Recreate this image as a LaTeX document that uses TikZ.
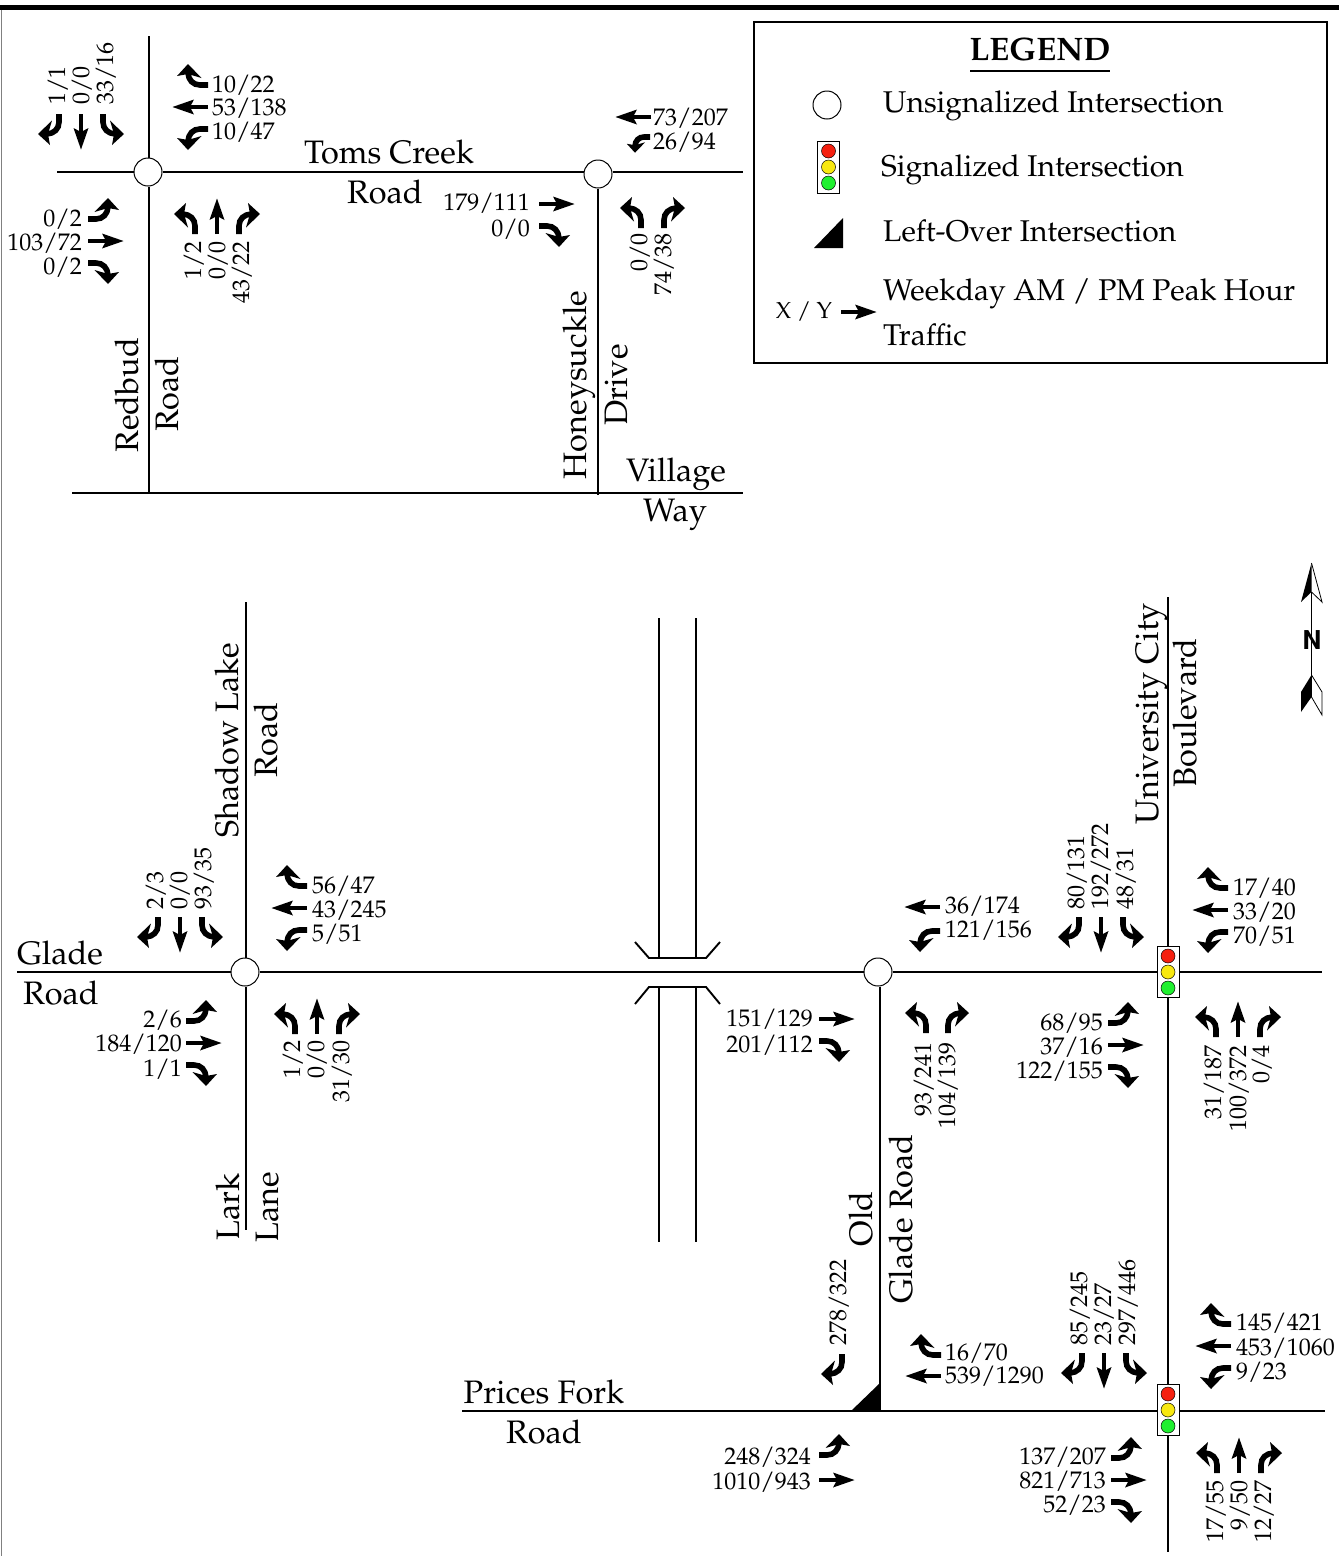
\documentclass[tikz,border=0pt]{standalone}
\usepackage[T1]{fontenc}
\usepackage{mathpazo}
\usepackage{xcolor}
\usepackage{tikz}
\usetikzlibrary{
	shapes.geometric,
	arrows.meta,
	positioning,
	calc
}
\definecolor{sigred}{RGB}{245,32,16}
\definecolor{sigyellow}{RGB}{248,232,16}
\definecolor{siggreen}{RGB}{32,240,48}
\newcommand{\thrushape}{
	\draw[line width=4.8pt] (0,0) -- (0,-20);
	\fill (0,-35.5) -- (7.5,-14) -- (0,-18) -- (-7.5,-14) -- cycle;
}
\newcommand{\turnshape}{
	\draw[line width=5.6pt] (0,0) -- (0,-8) .. controls (0,-15) and (-5,-19.5) .. (-12,-20);
	\fill (-21,-20) -- (-9,-31) -- (-11,-20) -- (-7,-6.5) -- cycle;
}

\begin{document}
\begin{tikzpicture}[
	x=1pt, y=-1pt,
	road/.style={line width=1.9pt},
	unsig/.style={
		circle, draw, fill=white, line width=1pt,
		minimum size=28pt, inner sep=0pt
	},
	sigbox/.style={
		rectangle, draw, fill=white, line width=0.8pt,
		minimum width=22pt, minimum height=51pt, inner sep=0pt
	},
	lamp/.style={circle, draw, line width=0.5pt, minimum size=14pt, inner sep=0pt},
	street/.style={
		font=\fontsize{32.5}{36}\selectfont, inner sep=0pt,
		text height=22pt, text depth=0pt
	},
	num/.style={
		font=\fontsize{24}{26}\selectfont, inner sep=0pt,
		text height=18pt, text depth=2pt
	},
	numE/.style={num, anchor=west},
	numW/.style={num, anchor=east},
	numN/.style={num, rotate=90, anchor=west},
	numS/.style={num, rotate=90, anchor=east},
	legtext/.style={
		font=\fontsize{30}{34}\selectfont, anchor=west, inner sep=0pt,
		text height=21pt, text depth=0pt
	},
	thru/.pic={\thrushape},
	lturn/.pic={\turnshape},
	rturn/.pic={\begin{scope}[xscale=-1]\turnshape\end{scope}},
	threeway/.pic={
		\begin{scope}[xshift=-22pt]\turnshape\end{scope}
		\thrushape
		\begin{scope}[xshift=22pt, xscale=-1]\turnshape\end{scope}
	},
	]
	
	\useasboundingbox (0,0) rectangle (1339,1556);
	\fill (0,5) rectangle (1339,10);
	\draw[gray, line width=1pt] (1,10) -- (1,1556);
	
	%legend
	\node (legbox) at (1040,192.5) [rectangle, draw, line width=2pt, minimum width=573pt, minimum height=341pt] {};
	\node (legtitle) at (1040,49.5) [font=\fontsize{32.5}{36}\selectfont\bfseries, inner sep=0pt] {LEGEND};
	\coordinate (ulstart) at (970,71);
	\coordinate (ulend) at (1110,71);
	\draw[line width=1.5pt] (ulstart) -- (ulend);
	\node (legunsig) at (827,105) [unsig] {};
	\node (legsig) at (828.5,167) [sigbox, minimum height=52pt] {};
	\node (legred) at (828.5,151) [lamp, fill=sigred] {};
	\node (legyellow) at (828.5,167) [lamp, fill=sigyellow] {};
	\node (leggreen) at (828.5,183) [lamp, fill=siggreen] {};
	\fill (814,248) -- (843,248) -- (843,218) -- cycle;
	\node (legtxta) at (883,102) [legtext] {Unsignalized Intersection};
	\node (legtxtb) at (881,166) [legtext] {Signalized Intersection};
	\node (legtxtc) at (883,231) [legtext] {Left-Over Intersection};
	\node (legtxtd) at (883,290) [legtext] {Weekday AM / PM Peak Hour};
	\node (legtxte) at (883,335) [legtext] {Traffic};
	\node (legxy) at (804,312) [font=\fontsize{23}{26}\selectfont, inner sep=0pt] {X / Y};
	\pic[rotate=-90] at (841,312) {thru};
	
	%north arrow
	\coordinate (ntop) at (1311.5,592);
	\coordinate (nbot) at (1311.5,675);
	\draw[line width=1.5pt] (ntop) -- (nbot);
	\fill (1311.5,563) -- (1301,602) -- (1311.5,592) -- cycle;
	\draw[line width=0.8pt] (1311.5,563) -- (1322,602) -- (1311.5,592);
	\fill (1311.5,675) -- (1301,692) -- (1301,712) -- (1311.5,697) -- cycle;
	\draw[line width=0.8pt] (1311.5,675) -- (1322,692) -- (1322,715) -- (1311.5,697) -- cycle;
	\node (nlabel) at (1312,640) [inner sep=0pt, font=\fontsize{26}{28}\selectfont\fontfamily{phv}\bfseries\selectfont] {N};
	
	%upper streets
	\node (toms) at (148,172) [unsig] {};
	\node (honey) at (598,174) [unsig] {};
	\coordinate (tomsW) at (57,172);
	\coordinate (tomsE) at (743,172);
	\coordinate (budN) at (149,36);
	\coordinate (budS) at (149,493);
	\coordinate (honeyS) at (598,495);
	\coordinate (villW) at (72,493);
	\coordinate (villE) at (743,493);
	\draw[road] (tomsW) -- (toms);
	\draw[road] (toms) -- (honey.west |- tomsW);
	\draw[road] (honey.east |- tomsE) -- (tomsE);
	\draw[road] (budN) -- (toms.north -| budN);
	\draw[road] (toms.south -| budS) -- (budS);
	\draw[road] (honey) -- (honeyS);
	\draw[road] (villW) -- (villE);
	
	\node (ltoms) at (389,152) [street] {Toms Creek};
	\node (ltomsb) at (385,192) [street] {Road};
	\node (lbud) at (127,395) [street, rotate=90] {Redbud};
	\node (lbudb) at (167,394) [street, rotate=90] {Road};
	\node (lhoney) at (575,385) [street, rotate=90] {Honeysuckle};
	\node (lhoneyb) at (616,385) [street, rotate=90] {Drive};
	\node (lvill) at (676,470) [street] {Village};
	\node (lway) at (675,510) [street] {Way};
	
	%1. set
	\pic[rotate=180] at (81,114) {threeway};
	\node (a1) at (57,105) [numN] {1/1};
	\node (a2) at (81,105) [numN] {0/0};
	\node (a3) at (105,105) [numN] {33/16};
	\pic[rotate=90] at (208,107) {threeway};
	\node (a4) at (212,84) [numE] {10/22};
	\node (a5) at (212,107) [numE] {53/138};
	\node (a6) at (212,131) [numE] {10/47};
	\pic[rotate=-90] at (88,241) {threeway};
	\node (a7) at (82,218) [numW] {0/2};
	\node (a8) at (82,242) [numW] {103/72};
	\node (a9) at (82,266) [numW] {0/2};
	\pic at (217,234) {threeway};
	\node (a10) at (193,241) [numS] {1/2};
	\node (a11) at (217,241) [numS] {0/0};
	\node (a12) at (241,241) [numS] {43/22};
	
	%2. set
	\pic[rotate=90] at (651,117) {thru};
	\pic[rotate=90, scale=.75] at (650,137) {lturn};
	\node (b1) at (653,117) [numE] {73/207};
	\node (b2) at (653,141) [numE] {26/94};
	\pic[rotate=-90] at (539,204) {thru};
	\pic[rotate=-90] at (539,226) {rturn};
	\node (b3) at (530,202) [numW] {179/111};
	\node (b4) at (530,228) [numW] {0/0};
	\pic at (641,228) {lturn};
	\pic at (664,228) {rturn};
	\node (b5) at (639,233) [numS] {0/0};
	\node (b6) at (663,233) [numS] {74/38};
	
	%lower streets
	\node (shadow) at (245,972) [unsig] {};
	\node (oldglade) at (878,972) [unsig] {};
	\node (ucb) at (1168,972) [sigbox] {};
	\node (ucbred) at (1168,956) [lamp, fill=sigred] {};
	\node (ucbyellow) at (1168,972) [lamp, fill=sigyellow] {};
	\node (ucbgreen) at (1168,988) [lamp, fill=siggreen] {};
	\node (pricesig) at (1168,1410) [sigbox] {};
	\node (prred) at (1168,1394) [lamp, fill=sigred] {};
	\node (pryellow) at (1168,1410) [lamp, fill=sigyellow] {};
	\node (prgreen) at (1168,1426) [lamp, fill=siggreen] {};
	\coordinate (gladeW) at (17,972);
	\coordinate (gladeE) at (1322,972);
	\coordinate (shadowN) at (246,602);
	\coordinate (larkS) at (246,1230);
	\coordinate (ucN) at (1168,597);
	\coordinate (ucS) at (1168,1552);
	\coordinate (ogS) at (880,1411);
	\coordinate (pfW) at (462,1411);
	\coordinate (pfE) at (1325,1411);
	\draw[road] (gladeW) -- (shadow);
	\draw[road] (shadow) -- (oldglade);
	\draw[road] (oldglade) -- (ucb);
	\draw[road] (ucb) -- (gladeE);
	\draw[road] (shadowN) -- (shadow.north -| shadowN);
	\draw[road] (shadow.south -| larkS) -- (larkS);
	\draw[road] (ucN) -- (ucb);
	\draw[road] (ucb) -- (pricesig);
	\draw[road] (pricesig) -- (ucS);
	\draw[road] (oldglade.south -| ogS) -- (ogS);
	\draw[road] (pfW) -- (pricesig.west |- pfW);
	\draw[road] (pricesig.east |- pfE) -- (pfE);
	\fill (851,1411) -- (880,1411) -- (880,1383) -- cycle;
	
	%bridge
	\coordinate (brTL) at (659,618);
	\coordinate (brTR) at (696,618);
	\coordinate (brBL) at (659,1242);
	\coordinate (brBR) at (696,1242);
	\coordinate (brUL) at (659,958);
	\coordinate (brUR) at (696,958);
	\coordinate (brLL) at (659,987);
	\coordinate (brLR) at (696,987);
	\draw[road] (brTL) -- (brUL);
	\draw[road] (brTR) -- (brUR);
	\draw[road] (brLL) -- (brBL);
	\draw[road] (brLR) -- (brBR);
	\draw[road] (635,942) -- (649,958) -- (706,958) -- (720,942);
	\draw[road] (635,1004) -- (649,987) -- (706,987) -- (720,1004);
	
	\node (lglade) at (60,953) [street] {Glade};
	\node (lgladeb) at (61,993) [street] {Road};
	\node (lshadow) at (227,740) [street, rotate=90] {Shadow Lake};
	\node (lshadowb) at (266,740) [street, rotate=90] {Road};
	\node (llark) at (228,1207) [street, rotate=90] {Lark};
	\node (llane) at (267,1207) [street, rotate=90] {Lane};
	\node (luc) at (1147,714) [street, rotate=90] {University City};
	\node (lucb) at (1185,713) [street, rotate=90] {Boulevard};
	\node (lold) at (861,1219) [street, rotate=90] {Old};
	\node (loldb) at (901,1219) [street, rotate=90] {Glade Road};
	\node (lpf) at (544,1392) [street] {Prices Fork};
	\node (lpfb) at (544,1432) [street] {Road};
	
	%3. set
	\pic[rotate=180] at (180,917) {threeway};
	\node (c1) at (155,910) [numN] {2/3};
	\node (c2) at (179,910) [numN] {0/0};
	\node (c3) at (203,910) [numN] {93/35};
	\pic[rotate=90] at (307,908) {threeway};
	\node (c4) at (312,885) [numE] {56/47};
	\node (c5) at (312,909) [numE] {43/245};
	\node (c6) at (312,933) [numE] {5/51};
	\pic[rotate=-90] at (186,1043) {threeway};
	\node (c7) at (182,1019) [numW] {2/6};
	\node (c8) at (182,1043) [numW] {184/120};
	\node (c9) at (182,1068) [numW] {1/1};
	\pic at (317,1034) {threeway};
	\node (c10) at (292,1040) [numS] {1/2};
	\node (c11) at (316,1040) [numS] {0/0};
	\node (c12) at (341,1040) [numS] {31/30};
	
	%4. set
	\pic[rotate=90] at (940,907) {thru};
	\pic[rotate=90] at (940,931) {lturn};
	\node (d1) at (945,905) [numE] {36/174};
	\node (d2) at (945,929) [numE] {121/156};
	\pic[rotate=-90] at (819,1019) {thru};
	\pic[rotate=-90] at (819,1041) {rturn};
	\node (d3) at (813,1018) [numW] {151/129};
	\node (d4) at (813,1044) [numW] {201/112};
	\pic at (926,1033) {lturn};
	\pic at (948,1033) {rturn};
	\node (d5) at (923,1042) [numS] {93/241};
	\node (d6) at (947,1042) [numS] {104/139};
	
	%5. set
	\pic[rotate=180] at (1101,917) {threeway};
	\node (e1) at (1076,910) [numN] {80/131};
	\node (e2) at (1100,910) [numN] {192/272};
	\node (e3) at (1125,910) [numN] {48/31};
	\pic[rotate=90] at (1228,910) {threeway};
	\node (e4) at (1233,887) [numE] {17/40};
	\node (e5) at (1233,911) [numE] {33/20};
	\node (e6) at (1233,935) [numE] {70/51};
	\pic[rotate=-90] at (1108,1045) {threeway};
	\node (e7) at (1103,1022) [numW] {68/95};
	\node (e8) at (1103,1046) [numW] {37/16};
	\node (e9) at (1103,1070) [numW] {122/155};
	\pic at (1238,1037) {threeway};
	\node (e10) at (1213,1045) [numS] {31/187};
	\node (e11) at (1238,1045) [numS] {100/372};
	\node (e12) at (1261,1045) [numS] {0/4};
	
	%6. set
	\pic[rotate=180] at (842,1354) {rturn};
	\node (f1) at (838,1346) [numN] {278/322};
	\pic[rotate=90] at (941,1355) {rturn};
	\pic[rotate=90] at (941,1376) {thru};
	\node (f2) at (945,1352) [numE] {16/70};
	\node (f3) at (945,1375) [numE] {539/1290};
	\pic[rotate=-90] at (819,1455) {lturn};
	\pic[rotate=-90] at (819,1480) {thru};
	\node (f4) at (811,1456) [numW] {248/324};
	\node (f5) at (811,1481) [numW] {1010/943};
	
	%7. set
	\pic[rotate=180] at (1104,1353) {threeway};
	\node (g1) at (1079,1346) [numN] {85/245};
	\node (g2) at (1103,1346) [numN] {23/27};
	\node (g3) at (1127,1346) [numN] {297/446};
	\pic[rotate=90] at (1231,1346) {threeway};
	\node (g4) at (1236,1322) [numE] {145/421};
	\node (g5) at (1236,1347) [numE] {453/1060};
	\node (g6) at (1236,1371) [numE] {9/23};
	\pic[rotate=-90] at (1111,1480) {threeway};
	\node (g7) at (1106,1456) [numW] {137/207};
	\node (g8) at (1106,1480) [numW] {821/713};
	\node (g9) at (1106,1504) [numW] {52/23};
	\pic at (1239,1473) {threeway};
	\node (g10) at (1215,1480) [numS] {17/55};
	\node (g11) at (1239,1480) [numS] {9/50};
	\node (g12) at (1263,1480) [numS] {12/27};
\end{tikzpicture}
\end{document}
